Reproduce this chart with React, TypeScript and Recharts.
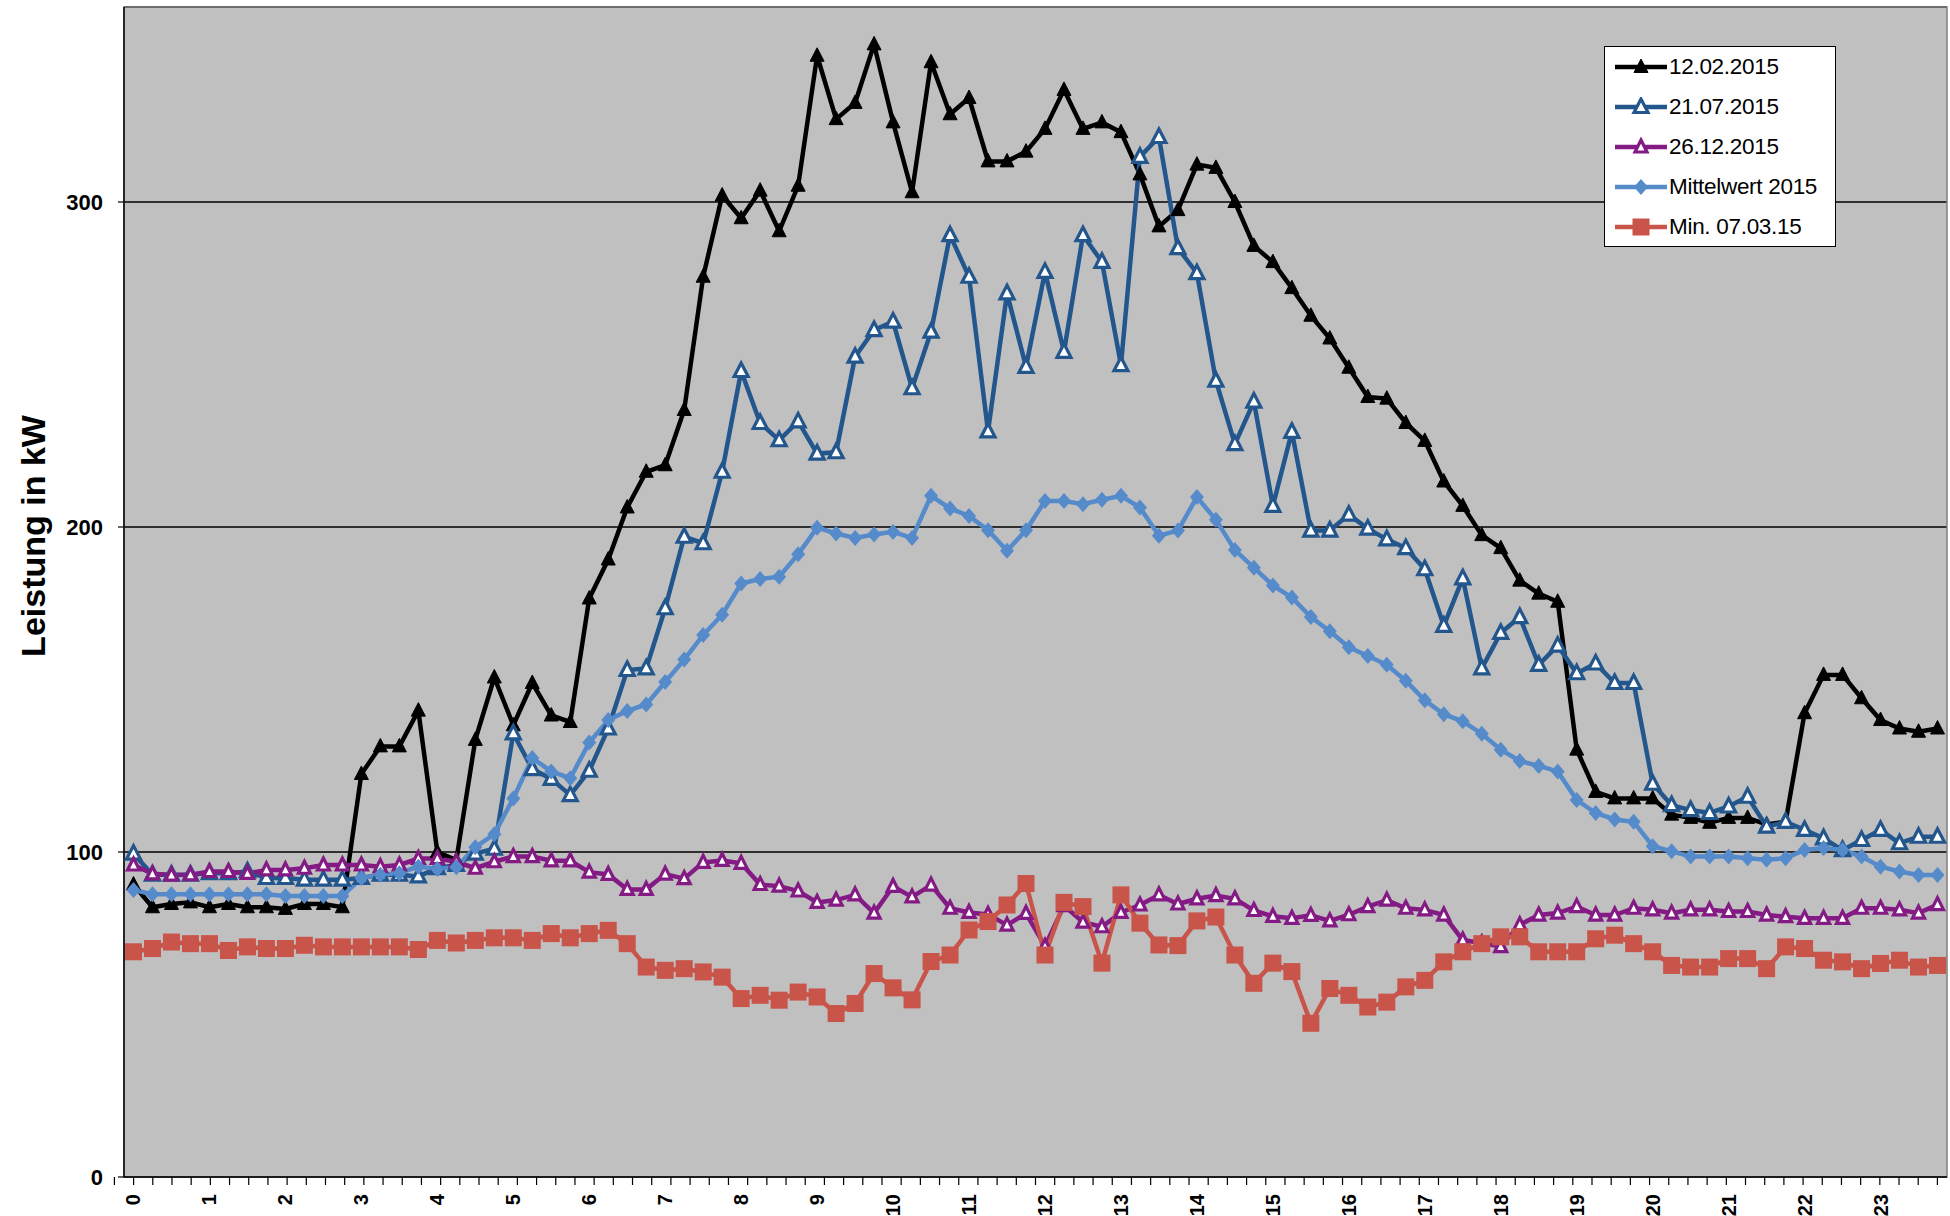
import { LineChart, Line, XAxis, YAxis, CartesianGrid, ReferenceArea, Legend } from "recharts";

// Quarter-hour slots of one day (0 = 00:00, 95 = 23:45)
const slots = Array.from({ length: 96 }, (_, i) => i);
const hourLabels = ["0", "1", "2", "3", "4", "5", "6", "7", "8", "9", "10", "11", "12", "13", "14", "15", "16", "17", "18", "19", "20", "21", "22", "23"];

// Leistung in kW per quarter hour
const feb12 = [
  90, 83, 84, 84.5, 83, 84, 83, 83, 82.5, 84, 84, 83,
  124, 132.5, 132.5, 143.5, 100, 97.5, 134.5, 153.7, 139, 152, 142, 140,
  178, 190, 206, 217, 219, 236, 277, 302, 295, 303.5, 291, 305,
  345, 325.5, 330.5, 348.5, 324.5, 303, 343, 327, 332, 312.5, 312.5, 315.5,
  322.5, 334.5, 322.5, 324.5, 321.5, 308.5, 292.5, 297.5, 311.5, 310.5, 300, 286.5,
  281.5, 273.5, 265, 258, 249, 240, 239.5, 232, 226.5, 214, 206.5, 197.5,
  193.5, 183.5, 179.5, 177, 131.5, 118.5, 116.5, 116.5, 116.5, 111.5, 110.5, 109,
  110.5, 110.5, 108.5, 109.3, 142.7, 154.5, 154.5, 147.3, 140.6, 138, 137, 138,
];
const jul21 = [
  99.5, 93, 93, 93, 93.5, 93.5, 94, 92, 92, 91.5, 91.5, 91.5,
  92, 93, 93, 92.5, 95, 96, 99.5, 101, 136.5, 125.5, 122.5, 117.5,
  125, 138, 156, 156.5, 175, 197, 195, 217, 248, 232, 226.7, 232.5,
  222.6, 223, 252.4, 260.6, 263.2, 242.7, 260.1, 289.8, 277, 229.4, 271.9, 249.3,
  278.5, 253.9, 289.8, 281.6, 249.8, 313.9, 320, 285.8, 278.1, 245, 225.5, 238.6,
  206.5, 229.3, 198.9, 198.9, 203.8, 199.5, 196.2, 193.5, 187, 169.6, 184.2, 156.5,
  167.4, 172.3, 157.6, 163.5, 155, 158, 152, 152, 121, 114.4, 112.9, 112,
  114, 117, 107.8, 109.3, 106.8, 104.2, 100.6, 103.7, 106.8, 102.7, 104.7, 104.7,
];
const dec26 = [
  96, 93.3, 92.9, 93, 94, 94, 93.4, 94.5, 94.5, 95, 96, 96,
  96, 95.5, 96, 98, 98, 97, 95, 97, 98.6, 98.6, 97.3, 97.3,
  93.8, 93.1, 88.5, 88.5, 93.2, 91.8, 96.8, 97.4, 96.5, 90, 89.5, 88,
  84.5, 85.2, 86.8, 81.2, 89.4, 86.2, 89.8, 82.7, 81.4, 80.8, 77.5, 81.1,
  71, 83.5, 78.4, 77, 81.4, 83.7, 86.8, 84, 85.6, 86.6, 85.6, 82,
  80.2, 79.6, 80.5, 78.8, 80.7, 83.2, 85.2, 82.7, 82.2, 80.6, 72.9, 72,
  70.9, 77.6, 80.6, 81.2, 83.2, 80.6, 80.6, 82.7, 82.2, 81.2, 82.2, 82.2,
  81.7, 81.7, 80.6, 80.1, 79.6, 79.6, 79.6, 82.7, 82.7, 82.2, 81.2, 83.8,
];
const mean2015 = [
  88.3, 87, 87, 87, 87, 87, 87, 87, 86.5, 86.5, 86.5, 86.5,
  92, 93, 93.5, 95.5, 94.8, 95.3, 101.5, 105.5, 116.5, 128.9, 124.8, 122.7,
  133.7, 140.6, 143.4, 145.4, 152.3, 159.2, 166.8, 173, 182.6, 184, 184.7, 191.6,
  199.8, 198, 196.6, 197.7, 198.5, 196.6, 209.6, 205.7, 203.4, 199, 192.7, 199,
  208, 208, 207, 208.4, 209.6, 206, 197.3, 198.9, 209.2, 202.2, 192.9, 187.5,
  182, 178.3, 172.3, 167.9, 163, 160.3, 157.6, 152.7, 146.7, 142.4, 140.2, 136.4,
  131.5, 128, 126.5, 124.8, 116, 112, 110, 109.3, 101.8, 100.2, 98.6, 98.6,
  98.6, 98.1, 97.6, 98.1, 100.6, 101.2, 100.6, 98.6, 95.5, 94, 92.9, 92.9,
];
const minMar07 = [
  69.3, 70.3, 72.3, 71.8, 71.8, 69.7, 70.8, 70.3, 70.3, 71.3, 70.8, 70.8,
  70.8, 70.8, 70.8, 70, 72.8, 72, 72.8, 73.6, 73.6, 72.8, 74.9, 73.6,
  74.9, 75.9, 71.8, 64.6, 63.6, 64.1, 63.1, 61.5, 54.9, 55.9, 54.4, 56.9,
  55.4, 50.3, 53.4, 62.6, 58.2, 54.5, 66.3, 68.3, 76, 78.6, 83.7, 90.3,
  68.3, 84.5, 83.2, 65.8, 86.8, 78.1, 71.4, 71.2, 78.8, 80, 68.3, 59.6,
  65.8, 63.2, 47.3, 58, 55.9, 52.3, 53.8, 58.5, 60.5, 66.2, 69.3, 71.8,
  73.9, 73.9, 69.3, 69.3, 69.3, 73.3, 74.4, 71.8, 69.3, 65.1, 64.6, 64.6,
  67.2, 67.2, 64.1, 70.8, 70.3, 66.7, 66.2, 64.1, 65.7, 66.7, 64.6, 65.1,
];

const yTicks = [0, 100, 200, 300];

const data = slots.map((i) => ({
  slot: i,
  feb12: feb12[i],
  jul21: jul21[i],
  dec26: dec26[i],
  mean2015: mean2015[i],
  minMar07: minMar07[i],
}));

const hourTicks = hourLabels.map((_, h) => h * 4);
const slotEdges = slots.map((i) => i - 0.5).concat(95.5);

const FONT = '"Liberation Sans", Arial, sans-serif';

type MarkerKind = "triangle" | "openTriangle" | "smallTriangle" | "diamond" | "square";

const Marker = ({ kind, cx, cy, color }: { kind: MarkerKind; cx: number; cy: number; color: string }) => {
  switch (kind) {
    case "triangle":
      return <polygon points={`${cx},${cy - 8} ${cx + 7},${cy + 5.5} ${cx - 7},${cy + 5.5}`} fill={color} stroke={color} strokeWidth={1} />;
    case "openTriangle":
      return <polygon points={`${cx},${cy - 8} ${cx + 7},${cy + 5.5} ${cx - 7},${cy + 5.5}`} fill="#ffffff" stroke={color} strokeWidth={3.2} />;
    case "smallTriangle":
      return <polygon points={`${cx},${cy - 7} ${cx + 6},${cy + 5} ${cx - 6},${cy + 5}`} fill="#ffffff" stroke={color} strokeWidth={3.2} />;
    case "diamond":
      return <polygon points={`${cx},${cy - 8} ${cx + 7},${cy} ${cx},${cy + 8} ${cx - 7},${cy}`} fill={color} />;
    case "square":
      return <rect x={cx - 8.5} y={cy - 8.5} width={17} height={17} fill={color} />;
  }
};

const series = [
  { key: "feb12", name: "12.02.2015", color: "#000000", marker: "triangle" as MarkerKind },
  { key: "jul21", name: "21.07.2015", color: "#23568C", marker: "openTriangle" as MarkerKind },
  { key: "dec26", name: "26.12.2015", color: "#841A84", marker: "smallTriangle" as MarkerKind },
  { key: "mean2015", name: "Mittelwert 2015", color: "#558ACB", marker: "diamond" as MarkerKind },
  { key: "minMar07", name: "Min. 07.03.15", color: "#C9544A", marker: "square" as MarkerKind },
];

const makeDot = (kind: MarkerKind, color: string) => (props: any) => {
  const { cx, cy, index } = props;
  if (cx == null || cy == null) return <g key={index} />;
  return (
    <g key={index}>
      <Marker kind={kind} cx={cx} cy={cy} color={color} />
    </g>
  );
};

const HourTick = (props: any) => {
  const { x, y, payload } = props;
  const label = hourLabels[Math.round(payload.value / 4)];
  return (
    <text
      x={x}
      y={y + 9}
      transform={`rotate(-90 ${x} ${y + 9})`}
      textAnchor="end"
      dominantBaseline="central"
      fontSize={20}
      fontWeight="bold"
      fontFamily={FONT}
      fill="#000"
    >
      {label}
    </text>
  );
};

const AxisTitle = (props: any) => {
  const { viewBox } = props;
  const cx = 45;
  const cy = viewBox.y + viewBox.height / 2 - 56;
  return (
    <text
      x={cx}
      y={cy}
      transform={`rotate(-90 ${cx} ${cy})`}
      textAnchor="middle"
      fontSize={34}
      fontWeight="bold"
      fontFamily={FONT}
      fill="#000"
    >
      Leistung in kW
    </text>
  );
};

const LegendBox = () => (
  <div
    style={{
      width: 232,
      height: 201,
      boxSizing: "border-box",
      border: "1px solid #000",
      background: "#fff",
      fontFamily: FONT,
    }}
  >
    {series.map((s) => (
      <div key={s.key} style={{ height: 40, display: "flex", alignItems: "center", paddingLeft: 10 }}>
        <svg width={52} height={20}>
          <line x1={0} y1={10} x2={52} y2={10} stroke={s.color} strokeWidth={4.5} />
          <Marker kind={s.marker} cx={26} cy={10} color={s.color} />
        </svg>
        <span style={{ fontSize: 22.5, color: "#000", marginLeft: 2, letterSpacing: -0.3 }}>{s.name}</span>
      </div>
    ))}
  </div>
);

const App = () => {
  return (
    <div style={{ position: "absolute", left: 0, top: 0, width: 1950, height: 1216, background: "#ffffff" }}>
      <LineChart width={1950} height={1216} data={data} margin={{ top: 7, right: 3, bottom: 0, left: 0 }}>
        <CartesianGrid xAxisId="hours" vertical={false} stroke="#000" strokeWidth={1.4} fill="#C0C0C0" fillOpacity={1} />
        <ReferenceArea xAxisId="hours" x1={-0.5} x2={95.5} y1={0} y2={360} fill="none" stroke="#7f7f7f" strokeWidth={1.5} />
        <XAxis
          xAxisId="hours"
          type="number"
          dataKey="slot"
          domain={[-0.5, 95.5]}
          ticks={hourTicks}
          interval={0}
          height={31}
          tickSize={0}
          tickMargin={0}
          axisLine={false}
          tickLine={false}
          tick={<HourTick />}
        />
        <XAxis
          xAxisId="edges"
          type="number"
          domain={[-0.5, 95.5]}
          ticks={slotEdges}
          interval={0}
          height={8}
          tickSize={8}
          tickFormatter={() => ""}
          axisLine={{ stroke: "#000", strokeWidth: 1.5 }}
          tickLine={{ stroke: "#000", strokeWidth: 1.2 }}
        />
        <YAxis
          domain={[0, 360]}
          ticks={yTicks}
          width={124}
          tickSize={6}
          tickMargin={15}
          axisLine={{ stroke: "#000", strokeWidth: 1.5 }}
          tickLine={{ stroke: "#000", strokeWidth: 1.2 }}
          tick={{ fill: "#000", fontSize: 22, fontWeight: "bold", fontFamily: FONT }}
          label={{ content: <AxisTitle /> }}
        />
        <Legend
          layout="vertical"
          align="center"
          verticalAlign="middle"
          wrapperStyle={{ left: 1604, top: 46, width: 232, height: 201 }}
          content={() => <LegendBox />}
        />
        {series.map((s) => (
          <Line
            key={s.key}
            xAxisId="hours"
            type="linear"
            dataKey={s.key}
            name={s.name}
            stroke={s.color}
            strokeWidth={4.5}
            dot={makeDot(s.marker, s.color)}
            activeDot={false}
            isAnimationActive={false}
          />
        ))}
      </LineChart>
    </div>
  );
};

export default App;
